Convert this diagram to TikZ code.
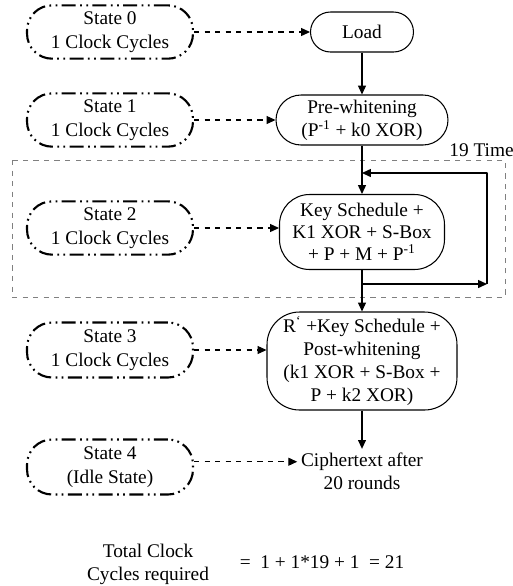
\documentclass[tikz,border=0pt]{standalone}
\usepackage{fontspec}
\setmainfont{Liberation Serif}
\usetikzlibrary{arrows.meta}
\begin{document}
\begin{tikzpicture}[x=0.02cm,y=-0.02cm,line join=bevel,
	font=\fontsize{11}{13}\selectfont,
	state/.style={draw,line width=1.2pt,dash pattern=on 8pt off 2.5pt on 1pt off 2.5pt on 1pt off 2.5pt,
		rounded corners=0.5cm,minimum width=3.32cm,minimum height=1cm,align=center,
		font=\fontsize{11}{14}\selectfont},
	stage/.style={draw,semithick,align=center,inner sep=2pt},
	flow/.style={semithick,-{Triangle[length=5pt,width=4.5pt]}},
	link/.style={semithick,dashed,-{Triangle[length=5pt,width=4.5pt]}}]
		\useasboundingbox (0,0) rectangle (512,586) ;
		% states on the left
		\node[state] (S0) at (110,32) {State 0\\1 Clock Cycles} ;
		\node[state] (S1) at (110,120) {State 1\\1 Clock Cycles} ;
		\node[state] (S2) at (110,228) {State 2\\1 Clock Cycles} ;
		\node[state,minimum height=1.1cm] (S3) at (110,350) {State 3\\1 Clock Cycles} ;
		\node[state,minimum height=1.1cm] (S4) at (110,467) {State 4\\(Idle State)} ;
		% steps on the right
		\node[stage,rounded corners=0.4cm,minimum width=2.06cm,minimum height=0.8cm] (L) at (362,32) {Load} ;
		\node[stage,rounded corners=0.5cm,minimum width=3.44cm,minimum height=1cm] (W) at (362,120) {Pre-whitening\\(P\textsuperscript{-1} + k0 XOR)} ;
		\node[stage,rounded corners=0.6cm,minimum width=3.3cm,minimum height=1.5cm,font=\fontsize{11}{12.5}\selectfont] (K) at (362,232) {Key Schedule +\\K1 XOR + S-Box\\+ P + M + P\textsuperscript{-1}} ;
		\node[stage,rounded corners=0.65cm,minimum width=3.8cm,minimum height=1.96cm] (R) at (362,361) {R\textsuperscript{`} +Key Schedule +\\Post-whitening\\(k1 XOR + S-Box +\\P + k2 XOR)} ;
		\node[align=center,inner sep=2pt] (C) at (362,471) {Ciphertext after\\20 rounds} ;
		% round loop
		\draw[gray,dashed] (12,160) rectangle (505,297) ;
		\node[anchor=east,inner sep=0pt] (N) at (514,150) {19 Time} ;
		\coordinate (Li) at (362,173) ; \coordinate (Lo) at (362,284) ;
		\coordinate (Lr) at (487,284) ; \coordinate (Lt) at (487,173) ;
		\draw[flow] (L)--(W) ;
		\draw[flow] (W)--(K) ;
		\draw[flow] (K)--(R) ;
		\draw[flow] (R)--(C) ;
		\draw[flow] (Lo)--(Lr) ;
		\draw[flow] (Lr)--(Lt)--(Li) ;
		\draw[link] (S0)--(L) ;
		\draw[link] (S1)--(W) ;
		\draw[link] (S2.east)--(S2.east-|K.west) ;
		\draw[link] (S3.east)--(S3.east-|R.west) ;
		\draw[link] ([yshift=3pt]S4.east)--([yshift=3pt]S4.east-|C.west) ;
		% total
		\node[align=center] (T) at (148,564) {Total Clock\\Cycles required} ;
		\node (E) at (322,562) {= \ 1 + 1*19 + 1 \ = 21} ;
\end{tikzpicture}
\end{document}
